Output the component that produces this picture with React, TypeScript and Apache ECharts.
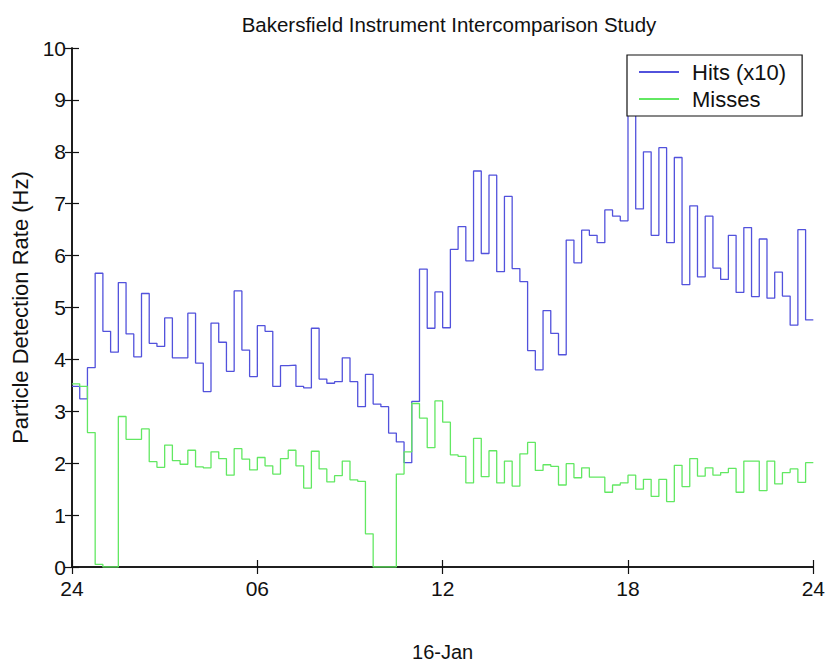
import React, { useEffect, useRef } from "react";
import * as echarts from "echarts";

const chartTitle = "Bakersfield Instrument Intercomparison Study";
const yAxisName = "Particle Detection Rate (Hz)";
const xAxisName = "16-Jan";
const xTickLabels = ["24", "06", "12", "18", "24"];
const seriesNames = ["Hits (x10)", "Misses"];
const binHours = 0.25;

// Hits (x10), one value per 15-minute bin, starting at 00:00
const hits = [
  3.48, 3.24, 3.84, 5.66, 4.54, 4.14, 5.48, 4.49, 4.05, 5.27, 4.31, 4.25,
  4.8, 4.03, 4.03, 4.89, 3.93, 3.38, 4.7, 4.33, 3.77, 5.32, 4.18, 3.67,
  4.65, 4.54, 3.48, 3.88, 3.89, 3.48, 3.45, 4.6, 3.62, 3.54, 3.57, 4.03,
  3.57, 3.09, 3.71, 3.14, 3.09, 2.58, 2.41, 2.01, 3.19, 5.74, 4.6, 5.3,
  4.61, 6.12, 6.56, 5.9, 7.63, 6.04, 7.55, 5.69, 7.14, 5.75, 5.5, 4.17,
  3.8, 4.94, 4.5, 4.09, 6.3, 5.86, 6.49, 6.39, 6.25, 6.88, 6.76, 6.67,
  9.0, 6.9, 8.0, 6.39, 8.08, 6.25, 7.89, 5.44, 6.96, 5.59, 6.76, 5.76,
  5.54, 6.39, 5.29, 6.54, 5.21, 6.32, 5.18, 5.68, 5.22, 4.66, 6.5, 4.76,
];

// Misses, one value per 15-minute bin
const misses = [
  3.53, 3.48, 2.59, 0.05, 0, 0, 2.9, 2.46, 2.46, 2.66, 2.03, 1.92,
  2.35, 2.05, 1.98, 2.25, 1.93, 1.91, 2.22, 2.09, 1.77, 2.28, 2.08, 1.87,
  2.11, 1.95, 1.79, 2.09, 2.25, 1.95, 1.52, 2.23, 1.89, 1.64, 1.76, 2.04,
  1.68, 1.65, 0.64, 0, 0, 0, 1.79, 2.22, 3.15, 2.87, 2.3, 3.2,
  2.79, 2.16, 2.13, 1.62, 2.48, 1.74, 2.24, 1.62, 2.04, 1.56, 2.18, 2.4,
  1.86, 1.97, 1.94, 1.58, 1.99, 1.72, 1.91, 1.73, 1.73, 1.44, 1.58, 1.62,
  1.77, 1.5, 1.69, 1.36, 1.69, 1.26, 1.96, 1.55, 2.09, 1.75, 1.91, 1.77,
  1.82, 1.9, 1.44, 2.04, 2.04, 1.47, 2.04, 1.6, 1.82, 1.89, 1.63, 2.01,
];

const FONT = "'Liberation Sans', Arial, Helvetica, sans-serif";

function toSteps(vals: number[]): [number, number][] {
  const pts: [number, number][] = vals.map((v, i) => [i * binHours, v]);
  pts.push([vals.length * binHours, vals[vals.length - 1]]);
  return pts;
}

export default function App() {
  const ref = useRef<HTMLDivElement>(null);
  useEffect(() => {
    if (!ref.current) return;
    const chart = echarts.init(ref.current, undefined, { renderer: "svg" });
    const axisLine = { show: true, lineStyle: { color: "#111", width: 1.5 } };
    const tick = { show: true, inside: true, length: 7, lineStyle: { color: "#111", width: 1.2 } };
    chart.setOption({
      animation: false,
      backgroundColor: "#fff",
      textStyle: { fontFamily: FONT },
      title: {
        text: chartTitle,
        left: 444,
        textAlign: "center",
        top: 9,
        textStyle: { fontSize: 20.5, fontWeight: "normal", color: "#111", fontFamily: FONT },
      },
      legend: {
        orient: "vertical",
        left: 627,
        top: 55,
        padding: [6, 16, 6, 12],
        itemGap: 5,
        itemWidth: 40,
        itemHeight: 2,
        icon: "rect",
        borderColor: "#111",
        borderWidth: 1.2,
        backgroundColor: "#fff",
        textStyle: { fontSize: 22, color: "#111", fontFamily: FONT, padding: [0, 0, 0, 8] },
        data: seriesNames,
      },
      grid: { left: 72, right: 12, top: 48, bottom: 91, containLabel: false },
      xAxis: [
        {
          type: "value",
          min: 0,
          max: 24,
          interval: 6,
          position: "bottom",
          axisLine,
          axisTick: tick,
          splitLine: { show: false },
          axisLabel: {
            fontSize: 21,
            color: "#111",
            margin: 11,
            fontFamily: FONT,
            formatter: (v: number) => xTickLabels[Math.round(v / 6)] ?? "",
          },
          name: xAxisName,
          nameLocation: "middle",
          nameGap: 75,
          nameTextStyle: { fontSize: 20, color: "#111", fontFamily: FONT },
        },
        {
          type: "value",
          min: 0,
          max: 24,
          interval: 6,
          position: "top",
          axisLine,
          axisTick: tick,
          splitLine: { show: false },
          axisLabel: { show: false },
        },
      ],
      yAxis: [
        {
          type: "value",
          min: 0,
          max: 10,
          interval: 1,
          position: "left",
          axisLine,
          axisTick: tick,
          splitLine: { show: false },
          axisLabel: { fontSize: 21, color: "#111", margin: 6, fontFamily: FONT },
          name: yAxisName,
          nameLocation: "middle",
          nameGap: 40,
          nameTextStyle: { fontSize: 22, color: "#111", fontFamily: FONT },
        },
        {
          type: "value",
          min: 0,
          max: 10,
          interval: 1,
          position: "right",
          axisLine,
          axisTick: tick,
          splitLine: { show: false },
          axisLabel: { show: false },
        },
      ],
      series: [
        {
          name: seriesNames[0],
          type: "line",
          step: "end",
          xAxisIndex: 0,
          yAxisIndex: 0,
          showSymbol: false,
          symbol: "none",
          color: "#5252dc",
          lineStyle: { color: "#5252dc", width: 1.3 },
          data: toSteps(hits),
          z: 2,
        },
        {
          name: seriesNames[1],
          type: "line",
          step: "end",
          xAxisIndex: 0,
          yAxisIndex: 0,
          showSymbol: false,
          symbol: "none",
          color: "#62e862",
          lineStyle: { color: "#62e862", width: 1.3 },
          data: toSteps(misses),
          z: 3,
        },
      ],
    });
    return () => chart.dispose();
  }, []);
  return (
    <div
      ref={ref}
      style={{ position: "absolute", left: 0, top: 0, width: 828, height: 667, background: "#fff" }}
    />
  );
}
